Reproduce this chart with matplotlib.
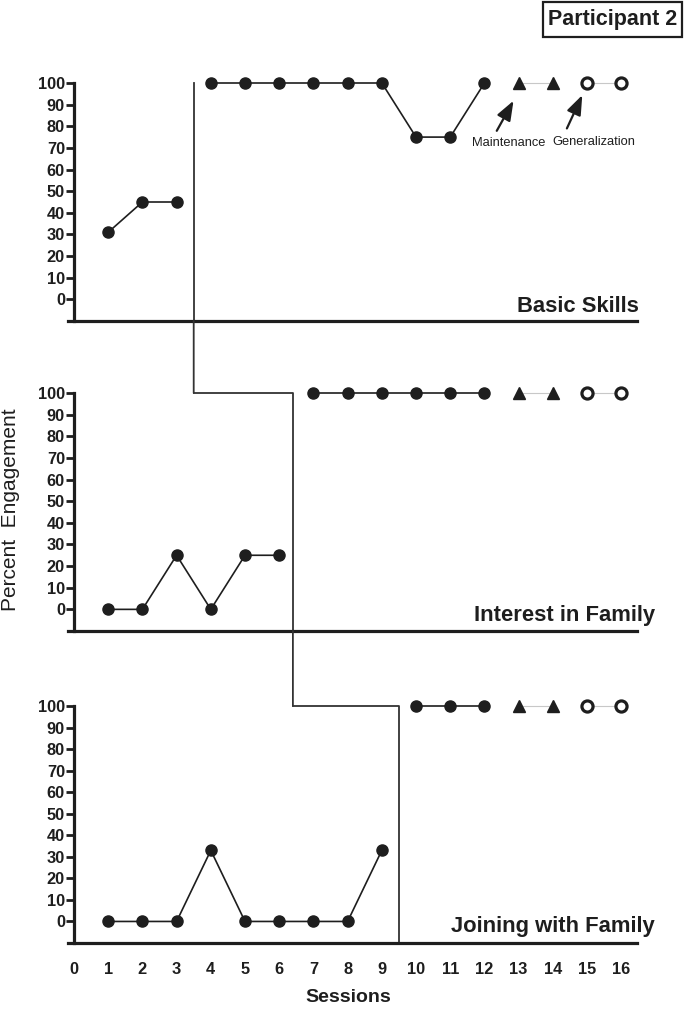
import matplotlib
matplotlib.use("Agg")
import matplotlib.pyplot as plt
from matplotlib.patches import ConnectionPatch, Rectangle

# ---- data ----
panel_titles = ["Basic Skills", "Interest in Family", "Joining with Family"]

base_sessions = [[1, 2, 3], [1, 2, 3, 4, 5, 6], [1, 2, 3, 4, 5, 6, 7, 8, 9]]
base_values = [[31, 45, 45], [0, 0, 25, 0, 25, 25], [0, 0, 0, 33, 0, 0, 0, 0, 33]]

treat_sessions = [[4, 5, 6, 7, 8, 9, 10, 11, 12], [7, 8, 9, 10, 11, 12], [10, 11, 12]]
treat_values = [[100, 100, 100, 100, 100, 100, 75, 75, 100],
                [100, 100, 100, 100, 100, 100],
                [100, 100, 100]]

maint_sessions = [13, 14]
maint_values = [[100, 100], [100, 100], [100, 100]]
gen_sessions = [15, 16]
gen_values = [[100, 100], [100, 100], [100, 100]]

phase_change = [3.5, 6.4, 9.5]

yticks = list(range(0, 101, 10))
xticks = list(range(0, 17))

W, H = 685, 1013
fig = plt.figure(figsize=(W / 100, H / 100), dpi=100)

ink = "#1e1e1e"
tickfont = "Liberation Sans"
labfont = "Liberation Sans"

panels_px = [(83, 321), (393, 631), (706, 943)]
left_px, right_px = 68, 637
axes = []
for i, (top, bot) in enumerate(panels_px):
    ax = fig.add_axes([left_px / W, (H - bot) / H, (right_px - left_px) / W, (bot - top) / H])
    ax.set_xlim(-0.175, 16.46)
    ax.set_ylim(-10, 100)
    for s in ["top", "right"]:
        ax.spines[s].set_visible(False)
    ax.spines["left"].set_position(("data", 0))
    ax.spines["left"].set_linewidth(2.3)
    ax.spines["bottom"].set_linewidth(2.3)
    ax.spines["left"].set_color(ink)
    ax.spines["bottom"].set_color(ink)
    ax.set_yticks(yticks)
    ax.tick_params(axis="y", length=5.5, width=2, color=ink, pad=1)
    for lab in ax.get_yticklabels():
        lab.set_fontfamily(tickfont)
        lab.set_fontweight("bold")
        lab.set_fontsize(11.8)
        lab.set_color(ink)
    ax.set_xticks(xticks)
    if i < 2:
        ax.tick_params(axis="x", length=0, labelbottom=False)
    else:
        ax.tick_params(axis="x", length=0, pad=14)
        for lab in ax.get_xticklabels():
            lab.set_fontfamily(tickfont)
            lab.set_fontweight("bold")
            lab.set_fontsize(11.8)
            lab.set_color(ink)

    mk = dict(marker="o", markersize=8, color=ink, linewidth=1.2, clip_on=False, zorder=3)
    ax.plot(base_sessions[i], base_values[i], **mk)
    ax.plot(treat_sessions[i], treat_values[i], **mk)
    ax.plot(maint_sessions, maint_values[i], color="#c8c8c8", linewidth=0.8, zorder=2, clip_on=False)
    ax.plot(maint_sessions, maint_values[i], linestyle="none", marker="^", markersize=8.5,
            color=ink, clip_on=False, zorder=3)
    ax.plot(gen_sessions, gen_values[i], color="#c8c8c8", linewidth=0.8, zorder=2, clip_on=False)
    ax.plot(gen_sessions, gen_values[i], linestyle="none", marker="o", markersize=8,
            markerfacecolor="white", markeredgecolor=ink, markeredgewidth=2.3,
            clip_on=False, zorder=3)
    axes.append(ax)

# panel titles (right edge, baseline in pixels)
title_pos = [(639, 311.5), (655, 621.5), (655, 931.5)]
for t, (px, py) in zip(panel_titles, title_pos):
    fig.text(px / W, (H - py) / H, t, ha="right", va="baseline", fontsize=15.8,
             fontweight="bold", fontfamily=labfont, color=ink)

# phase-change lines
pc_kw = dict(color="#333333", linewidth=1.3)
axes[0].plot([phase_change[0], phase_change[0]], [100, -10], clip_on=False, **pc_kw)
con = ConnectionPatch(xyA=(phase_change[0], -10), coordsA=axes[0].transData,
                      xyB=(phase_change[0], 100), coordsB=axes[1].transData, **pc_kw)
fig.add_artist(con)
axes[1].plot([phase_change[0], phase_change[1], phase_change[1]], [100, 100, -10],
             clip_on=False, **pc_kw)
con = ConnectionPatch(xyA=(phase_change[1], -10), coordsA=axes[1].transData,
                      xyB=(phase_change[1], 100), coordsB=axes[2].transData, **pc_kw)
fig.add_artist(con)
axes[2].plot([phase_change[1], phase_change[2], phase_change[2]], [100, 100, -10],
             clip_on=False, **pc_kw)

# annotations
arrow_kw = dict(arrowprops=dict(arrowstyle="-|>,head_length=0.85,head_width=0.32", color=ink,
                                lw=1.6, mutation_scale=14, shrinkA=0, shrinkB=0))
axes[0].annotate("", xy=(12.85, 91.8), xytext=(12.36, 77.9), **arrow_kw)
axes[0].annotate("", xy=(14.86, 94.4), xytext=(14.41, 79.0), **arrow_kw)
axes[0].text(12.71, 72.2, "Maintenance", fontsize=9.3, fontfamily=labfont, color=ink,
             ha="center", va="center")
axes[0].text(15.21, 72.6, "Generalization", fontsize=9.3, fontfamily=labfont, color=ink,
             ha="center", va="center")

# axis labels
fig.text(11 / W, (H - 510) / H, "Percent  Engagement", rotation=90, ha="center", va="center",
         fontsize=15, fontfamily=labfont, color=ink)
fig.text(348 / W, (H - 997) / H, "Sessions", ha="center", va="center", fontsize=14,
         fontweight="bold", fontfamily=labfont, color=ink)

# participant box
fig.add_artist(Rectangle((543 / W, (H - 37) / H), (682 - 543) / W, 35 / H,
                         transform=fig.transFigure, facecolor="white", edgecolor=ink,
                         linewidth=1.6))
fig.text(612.5 / W, (H - 20) / H, "Participant 2", ha="center", va="center", fontsize=15.5,
         fontweight="bold", fontfamily=labfont, color=ink)

fig.savefig("out.png", dpi=100)
